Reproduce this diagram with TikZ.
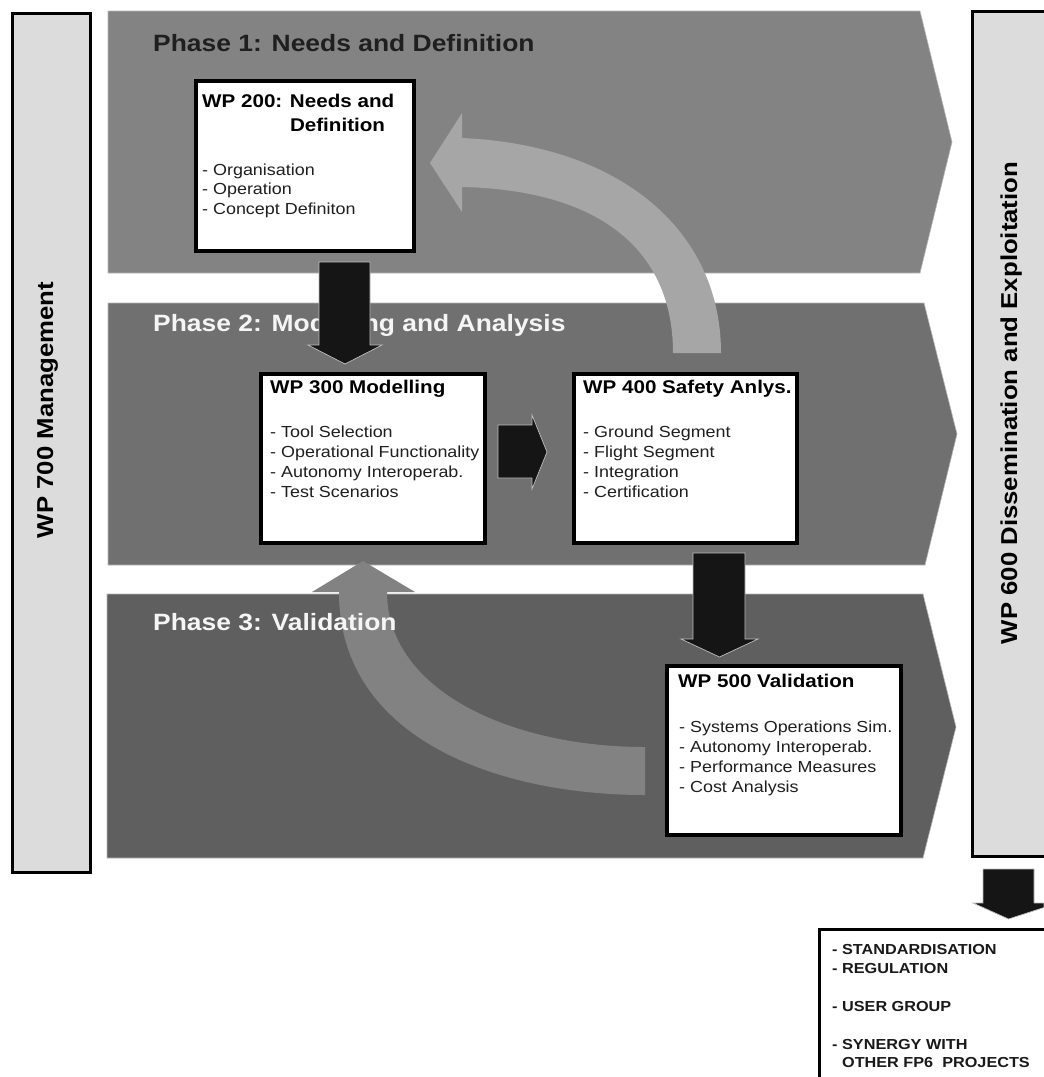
\documentclass[tikz,border=0pt]{standalone}
\usepackage{fontspec}
\setmainfont{Liberation Sans}
\newfontfamily\wf[FakeStretch=1.12]{Liberation Sans}
\definecolor{pone}{HTML}{838383}
\definecolor{ptwo}{HTML}{707070}
\definecolor{pthree}{HTML}{5F5F5F}
\definecolor{garrowA}{HTML}{A6A6A6}
\definecolor{garrowB}{HTML}{828282}
\definecolor{sidegray}{HTML}{DCDCDC}
\definecolor{blk}{HTML}{151515}
\begin{document}
\begin{tikzpicture}[x=1pt,y=-1pt,
  band/.style={draw=white!72!black, line width=0.6pt},
  wpbox/.style={draw=black, line width=3.5pt, fill=white, inner sep=0pt, anchor=north west},
  ttl/.style={anchor=base west, inner sep=0pt, font=\wf\bfseries\fontsize{18.4}{22}\selectfont},
  itm/.style={anchor=base west, inner sep=0pt, font=\wf\fontsize{16}{19}\selectfont, text=black!88},
  phs/.style={anchor=base west, inner sep=0pt, font=\wf\bfseries\fontsize{23.6}{28}\selectfont},
  sidelbl/.style={rotate=90, anchor=base, inner sep=0pt, font=\wf\bfseries\fontsize{23}{28}\selectfont},
  blkarrow/.style={fill=blk, draw=white!75!black, line width=0.7pt, line join=miter},
  outt/.style={anchor=base west, inner sep=0pt, font=\wf\bfseries\fontsize{14.5}{18}\selectfont, text=black!90}
]
\useasboundingbox (0,0) rectangle (1044,1077);
\fill[white] (0,0) rectangle (1044,1077);

% phase bands
\path[band, fill=pone]   (108,11) -- (920,11) -- (952,142) -- (920,273) -- (108,273) -- cycle;
\path[band, fill=ptwo]   (108,303) -- (924,303) -- (957,434) -- (925,565) -- (108,565) -- cycle;
\path[band, fill=pthree] (107,594) -- (923,594) -- (956,727) -- (923,858) -- (107,858) -- cycle;

% side boxes
\node[draw=black, fill=sidegray, line width=3pt, inner sep=0pt, minimum width=78pt, minimum height=859pt, anchor=north west] (wp700) at (10.5,11.5) {};
\node[sidelbl] (wp700t) at (53,410) {WP 700 Management};
\fill[sidegray] (971,10) rectangle (1044,857);
\draw[line width=3pt] (1044,11.5) -- (972.5,11.5) -- (972.5,856) -- (1044,856);
\node[sidelbl] (wp600t) at (1017,403) {WP 600 Dissemination and Exploitation};

% gray curved arrows
\path[fill=garrowA] (721,353) .. controls (721,230) and (620,145) .. (462,138)
  -- (462,113) -- (430,163) -- (462,212) -- (462,187)
  .. controls (600,190) and (673,250) .. (673,353) -- cycle;
\path[fill=garrowB] (645,795) .. controls (500,795) and (339,740) .. (339,592)
  -- (312,592) -- (363,561) -- (415,592) -- (387,592)
  .. controls (387,690) and (510,747) .. (645,747) -- cycle;

% phase titles
\node[phs, text=black!88] (ph1) at (153,51) {Phase 1: Needs and Definition};
\node[phs, text=white!96!black] (ph2) at (153,331) {Phase 2: Modelling and Analysis};
\node[phs, text=white!96!black] (ph3) at (153,630) {Phase 3: Validation};

% WP boxes
\node[wpbox, minimum width=218pt, minimum height=170pt] (wp200) at (194,79) {};
\node[wpbox, minimum width=224pt, minimum height=169pt] (wp300) at (259,372) {};
\node[wpbox, minimum width=223pt, minimum height=169pt] (wp400) at (572,372) {};
\node[wpbox, minimum width=234pt, minimum height=169pt] (wp500) at (665,664) {};

% WP 200 text
\node[ttl] (t200a) at (202,107) {WP 200: Needs and};
\node[ttl] (t200b) at (202,131) {\phantom{WP 200: }Definition};
\foreach \t [count=\i from 0] in {Organisation, Operation, Concept Definiton}
  \node[itm] (i200\i) at (202,{175+19.5*\i}) {- \t};

% WP 300 text
\node[ttl] (t300) at (270,393) {WP 300 Modelling};
\foreach \t [count=\i from 0] in {Tool Selection, Operational Functionality, Autonomy Interoperab., Test Scenarios}
  \node[itm] (i300\i) at (270,{437+20*\i}) {- \t};

% WP 400 text
\node[ttl] (t400) at (583,393) {WP 400 Safety Anlys.};
\foreach \t [count=\i from 0] in {Ground Segment, Flight Segment, Integration, Certification}
  \node[itm] (i400\i) at (583,{437+20*\i}) {- \t};

% WP 500 text
\node[ttl] (t500) at (678,687) {WP 500 Validation};
\foreach \t [count=\i from 0] in {Systems Operations Sim., Autonomy Interoperab., Performance Measures, Cost Analysis}
  \node[itm] (i500\i) at (679,{732+20*\i}) {- \t};

% black block arrows
\path[blkarrow] (319,262) -- (370,262) -- (370,345) -- (382,345) -- (345,364) -- (308,345) -- (319,345) -- cycle;
\path[blkarrow] (498,425) -- (532,425) -- (532,415) -- (547,452) -- (532,489) -- (532,478) -- (498,478) -- cycle;
\path[blkarrow] (693,553) -- (745,553) -- (745,639) -- (758,639) -- (719.5,657) -- (681,639) -- (693,639) -- cycle;
\path[blkarrow] (983,869) -- (1034,869) -- (1034,903) -- (1044,903) -- (1044,907.5) -- (1008.5,919) -- (973,903) -- (983,903) -- cycle;

% output box
\fill[white] (819.5,929.5) rectangle (1044,1077);
\draw[line width=3pt] (819.5,1077) -- (819.5,929.5) -- (1044,929.5);
\node[outt] (o1) at (832,954) {- STANDARDISATION};
\node[outt] (o2) at (832,973) {- REGULATION};
\node[outt] (o3) at (832,1011) {- USER GROUP};
\node[outt] (o4) at (832,1049) {- SYNERGY WITH};
\node[outt] (o5) at (832,1067) {\phantom{- }OTHER FP6~~PROJECTS};
\end{tikzpicture}
\end{document}
